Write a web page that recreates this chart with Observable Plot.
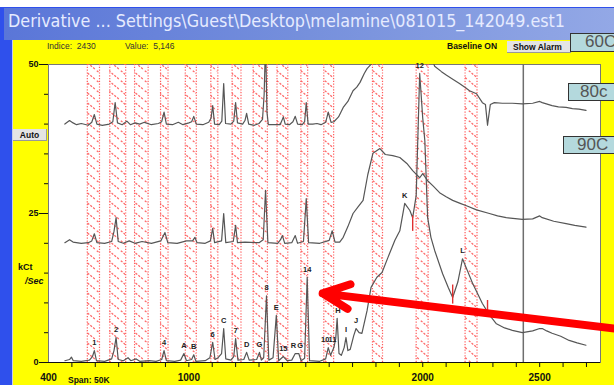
<!DOCTYPE html>
<html><head><meta charset="utf-8">
<script src="https://cdn.jsdelivr.net/npm/d3@7"></script>
<script src="https://cdn.jsdelivr.net/npm/@observablehq/plot@0.6"></script>
<style>
html,body{margin:0;padding:0;background:#fff;}
#win{position:relative;width:614px;height:385px;overflow:hidden;background:#fff;font-family:"Liberation Sans",Arial,sans-serif;}
.abs{position:absolute;}
#border{left:0;top:7px;width:614px;height:378px;background:#2f50ec;}
#titlebar{left:4px;top:8px;width:610px;height:32px;background:linear-gradient(90deg,#5a76d8 0%,#7690dc 50%,#93a8e6 100%);}
#title{left:8px;top:10px;font-family:"DejaVu Sans",sans-serif;font-size:18px;color:#e6ebff;white-space:nowrap;transform-origin:0 0;}
#yellow{left:12px;top:40px;width:602px;height:345px;background:#ffff00;border-left:1px solid #c8ccee;}
#chart{left:0;top:0;}
.small{font-size:8.5px;color:#333;white-space:nowrap;}
.bold{font-weight:bold;color:#111;}
.btn{background:#e4e4e4;border-right:1px solid #999;border-bottom:1px solid #999;box-sizing:border-box;}
.box{background:#b4d9dd;border:1px solid #333;box-sizing:border-box;font-size:17px;color:#555;line-height:16px;white-space:nowrap;overflow:hidden;}
</style></head>
<body>
<div id="win">
  <div id="border" class="abs"></div>
  <div id="titlebar" class="abs"></div>
  <div id="title" class="abs">Derivative ... Settings\Guest\Desktop\melamine\081015_142049.est1</div>
  <div id="yellow" class="abs"></div>
  <div id="chart" class="abs"></div>
  <div class="abs small" style="left:47px;top:41px;">Indice:&nbsp; 2430</div>
  <div class="abs small" style="left:125px;top:41px;">Value:&nbsp; 5,146</div>
  <div class="abs small bold" style="left:447px;top:41px;">Baseline ON</div>
  <div class="abs btn small bold" style="left:507px;top:41px;width:64px;height:12px;padding-left:6px;line-height:12px;">Show Alarm</div>
  <div class="abs box" style="left:570px;top:33px;width:50px;height:19px;padding-left:14px;">60C</div>
  <div class="abs box" style="left:568px;top:83px;width:50px;height:18px;padding-left:11px;">80c</div>
  <div class="abs box" style="left:563px;top:136px;width:55px;height:18px;padding-left:13px;">90C</div>
  <div class="abs btn small bold" style="left:13px;top:129px;width:34px;height:12px;text-align:center;line-height:12px;">Auto</div>
  <div class="abs small bold" style="left:18px;top:262px;font-size:9px;">kCt</div>
  <div class="abs small bold" style="left:25px;top:276px;font-size:9px;font-style:italic;">/Sec</div>
  <div class="abs small bold" style="left:68px;top:375px;">Span: 50K</div>
</div>
<script>
// ---- data (x = index, y = kCt/Sec) ----
const trace60 = [[470,40.0],[490,40.6],[505,40.2],[520,39.9],[540,40.1],[570,39.8],[585,40.3],[596,41.6],[607,40.0],[630,39.8],[660,40.0],[675,40.4],[685,43.6],[695,40.2],[715,39.9],[735,40.5],[750,39.9],[770,40.2],[790,40.0],[810,40.3],[840,39.9],[870,40.1],[884,40.4],[894,42.0],[904,40.0],[930,39.9],[955,40.3],[975,39.9],[1000,40.2],[1012,40.4],[1021,41.3],[1032,40.0],[1060,39.9],[1085,40.3],[1095,41.0],[1102,43.1],[1110,40.0],[1130,39.9],[1141,40.5],[1149,46.8],[1157,40.1],[1180,40.0],[1192,40.5],[1200,43.6],[1208,40.2],[1230,40.0],[1240,40.6],[1247,41.8],[1256,40.0],[1280,39.8],[1300,40.1],[1315,40.8],[1322,45],[1328,54],[1334,42],[1340,39.9],[1390,39.9],[1397,40.5],[1404,41.2],[1412,40.0],[1430,39.9],[1445,40.4],[1455,41.3],[1465,40.0],[1485,39.9],[1495,40.4],[1502,43.6],[1510,40.0],[1530,40.0],[1548,40.1],[1565,39.9],[1585,40.3],[1596,42.0],[1608,40.3],[1620,40.4],[1640,41.2],[1660,42.8],[1680,43.8],[1702,45.6],[1718,46.2],[1732,47.0],[1750,48.5],[1762,49.3],[1783,50.2],[1800,52],[1850,54],[1950,55],[2020,53],[2051,49.7],[2080,48.8],[2102,48.2],[2130,47.5],[2157,46.8],[2180,46.2],[2200,45.6],[2230,45.1],[2255,43.6],[2268,43.3],[2274,41],[2277,39.8],[2281,41],[2289,43.3],[2306,43.6],[2340,43.5],[2383,43.5],[2426,43.4],[2470,43.5],[2500,43.8],[2511,43.6],[2553,43.1],[2580,42.9],[2613,42.8],[2640,42.6],[2668,42.5],[2698,42.3]];

const trace80 = [[470,20.1],[490,20.6],[505,20.2],[540,20.0],[570,20.1],[585,20.4],[596,21.6],[607,20.1],[640,20.0],[670,20.3],[680,22],[689,24.3],[698,20.3],[720,20.0],[745,20.4],[770,20.0],[800,20.3],[840,20.0],[880,20.4],[898,21.8],[910,20.1],[950,20.0],[990,20.4],[1016,20.4],[1026,21.0],[1035,20.1],[1070,20.0],[1092,20.4],[1102,22.5],[1110,20.1],[1140,20.4],[1149,25.0],[1158,20.1],[1190,20.3],[1200,23.0],[1208,20.1],[1240,20.2],[1300,20.1],[1318,20.6],[1328,28.9],[1338,20.1],[1380,20.0],[1392,20.6],[1400,21.3],[1410,20.0],[1440,20.1],[1455,21.3],[1465,20.0],[1490,20.3],[1502,27.5],[1512,20.1],[1560,20.0],[1600,20.5],[1613,22.1],[1625,20.2],[1645,20.2],[1660,21],[1680,22.8],[1702,25.0],[1725,26.2],[1745,27.2],[1765,31.5],[1787,35.1],[1817,35.9],[1840,34.9],[1872,34.7],[1902,34.4],[1932,33.4],[1957,32.2],[1987,31.0],[2000,31.7],[2021,30.5],[2045,29.6],[2072,28.5],[2100,27.8],[2128,27.2],[2160,26.7],[2187,26.3],[2230,25.6],[2285,25.0],[2320,24.6],[2357,24.3],[2426,24.0],[2470,24.1],[2500,24.6],[2511,24.3],[2560,23.7],[2613,23.3],[2650,23.0],[2698,22.7]];

const trace90 = [[470,0.3],[490,0.5],[498,0.9],[506,0.3],[540,0.2],[575,0.4],[588,1.0],[596,2.0],[605,0.3],[640,0.2],[670,0.6],[680,2.0],[689,4.2],[698,0.5],[720,0.3],[740,0.8],[752,0.3],[775,0.6],[790,0.2],[830,0.3],[860,0.2],[884,0.5],[894,2.0],[904,0.3],[940,0.2],[965,0.4],[979,1.5],[990,0.3],[1012,0.5],[1021,1.3],[1030,0.2],[1070,0.3],[1090,0.8],[1102,3.4],[1112,0.5],[1125,0.8],[1140,1.5],[1149,5.7],[1158,0.6],[1180,0.4],[1192,1.0],[1200,4.0],[1210,0.4],[1235,0.5],[1247,1.7],[1258,0.4],[1290,0.5],[1302,1.7],[1310,0.4],[1320,0.8],[1332,11.2],[1342,0.4],[1360,0.8],[1374,7.9],[1384,0.3],[1404,1.0],[1420,0.3],[1440,0.4],[1455,1.5],[1470,1.5],[1480,0.3],[1495,0.7],[1506,14.3],[1516,0.3],[1560,0.2],[1585,0.6],[1596,2.5],[1606,1.2],[1620,2.5],[1628,4],[1634,7.4],[1642,1.5],[1652,1.2],[1664,2.5],[1672,4.2],[1680,2.0],[1690,2.2],[1705,4.5],[1715,5.7],[1728,5.0],[1740,4.9],[1762,8.7],[1779,12.6],[1804,14.3],[1826,15.1],[1851,17.6],[1881,20.5],[1902,22.1],[1923,26.7],[1945,25.5],[1957,24.3],[1972,28],[1987,48.5],[2000,41],[2009,37.2],[2021,24.3],[2035,21],[2051,18.8],[2085,14.9],[2110,12.5],[2128,10.9],[2150,13.5],[2170,17.4],[2190,15.5],[2213,13.3],[2255,9.9],[2285,8.0],[2315,6.5],[2350,5.8],[2383,5.4],[2426,5.0],[2470,5.3],[2500,5.7],[2511,5.7],[2530,5.3],[2553,4.9],[2590,4.4],[2626,3.7],[2660,3.3],[2698,2.9]];

const peakLabels = [["1",596,2.0],["2",689,4.2],["4",894,2.0],["A",979,1.5],["B",1021,1.3],["6",1102,3.4],["C",1149,5.7],["7",1200,4.0],["D",1247,1.7],["G",1302,1.7],["8",1332,11.2],["E",1374,7.9],["15",1404,1.0],["R",1447,1.5],["G",1476,1.5],["14",1506,14.3],["10",1583,2.5],["11",1614,2.5],["H",1638,7.4],["I",1672,4.2],["J",1715,5.7],["K",1923,26.7],["12",1987,48.5],["L",2170,17.4]];

const bands = [[566,618],[662,730],[768,826],[879,911],[985,1032],[1094,1124],[1185,1223],[1275,1336],[1377,1423],[1479,1508],[1577,1619],[1785,1828],[1972,2023],[2181,2232]];

const redMarks = [[1957,22.0,24.6],[2128,9.8,13.0],[2277,8.2,10.4]];
const cursorX = [2430];
const xTicksMinor = d3.range(500, 2701, 100);
const xTickLabels = [400, 1000, 2000, 2500];
const yTicksMinor = d3.range(0, 51, 5);
const yTickLabels = [0, 25, 50];
const arrowAnno = [{x1: 2820, y1: 5.7, x2: 1572, y2: 11.6}];

const lineOpts = {x: d => d[0], y: d => d[1], stroke: "#565656", strokeWidth: 1.2, clip: true};

const chart = Plot.plot({
  width: 614, height: 385,
  marginLeft: 48, marginRight: 14, marginTop: 64, marginBottom: 23,
  x: {domain: [400, 2760]},
  y: {domain: [0, 50]},
  style: {background: "transparent", fontFamily: "Liberation Sans, Arial, sans-serif", overflow: "visible", color: "#111"},
  marks: [
    Plot.frame({fill: "white", stroke: "#777"}),
    Plot.rect(bands, {x1: d => d[0], x2: d => d[1], y1: 0, y2: 50, fill: "url(#hatch)"}),
    Plot.ruleX(bands.flat(), {y1: 0, y2: 50, stroke: "#ff5c5c", strokeDasharray: "1.2,1.6", strokeWidth: 1.2}),
    Plot.ruleX(cursorX, {y1: 0, y2: 50, stroke: "#6e6e6e", strokeWidth: 1.5}),
    Plot.line(trace60, lineOpts),
    Plot.line(trace80, lineOpts),
    Plot.line(trace90, lineOpts),
    Plot.ruleX(redMarks, {x: d => d[0], y1: d => d[1], y2: d => d[2], stroke: "#e03030", strokeWidth: 1.4}),
    Plot.text(peakLabels, {x: d => d[1], y: d => d[2], text: d => d[0], dy: -8, fontSize: 7.5, fontWeight: "bold", fill: "#222"}),
    Plot.ruleY([0], {stroke: "#111"}),
    Plot.axisY({ticks: yTicksMinor, tickSize: 4, tickFormat: () => ""}),
    Plot.axisY({ticks: yTickLabels, tickSize: 9, tickPadding: 1, fontSize: 9, fontWeight: "bold"}),
    Plot.axisX({ticks: xTicksMinor, tickSize: 5, tickFormat: () => ""}),
    Plot.axisX({ticks: xTickLabels, tickSize: 0, tickPadding: 11, fontSize: 10, fontWeight: "bold", tickFormat: d => String(d)}),
    Plot.arrow(arrowAnno, {x1: "x1", y1: "y1", x2: "x2", y2: "y2", stroke: "#ff0000", strokeWidth: 8, headLength: 5.5, headAngle: 50})
  ]
});

d3.select(chart).insert("defs", ":first-child").html(
  '<pattern id="hatch" patternUnits="userSpaceOnUse" width="12" height="10">' +
  '<path d="M-2,-1.6 L14,11.6" stroke="#ff6a6a" stroke-width="1.3" stroke-dasharray="2.2,1.4"/>' +
  '</pattern>');
document.getElementById("chart").appendChild(chart);

const t = document.getElementById("title");
const w = t.getBoundingClientRect().width;
t.style.transform = `scaleX(${557 / w})`;
</script>
</body></html>
